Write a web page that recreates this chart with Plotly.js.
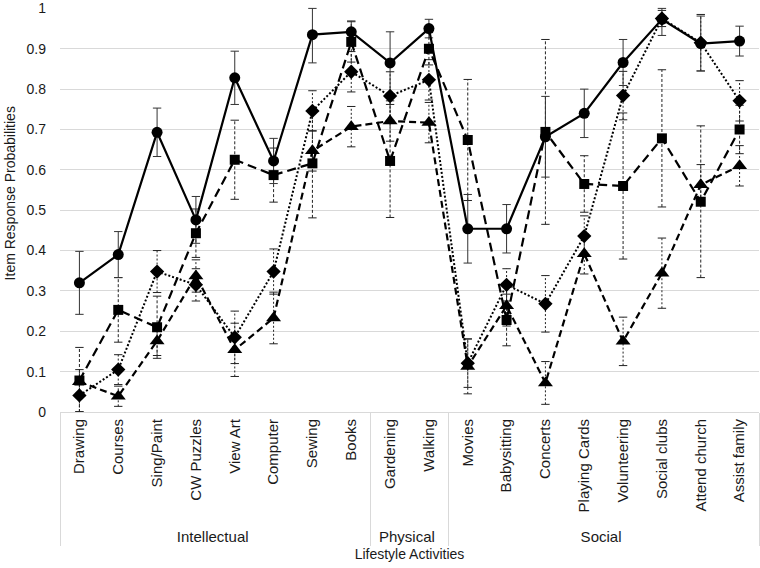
<!DOCTYPE html>
<html>
<head>
<meta charset="utf-8">
<script src="https://cdn.plot.ly/plotly-3.0.1.min.js"></script>
<style>
  body { margin: 0; background: #fff; }
  #chart { width: 760px; height: 568px; }
</style>
</head>
<body>
<div id="chart"></div>
<script>
var config = { responsive: false, displayModeBar: false }

// Activities and their domain
var activities = ["Drawing", "Courses", "Sing/Paint", "CW Puzzles", "View Art", "Computer", "Sewing", "Books",
    "Gardening", "Walking",
    "Movies", "Babysitting", "Concerts", "Playing Cards", "Volunteering", "Social clubs", "Attend church", "Assist family"];
var domains = ["Intellectual", "Intellectual", "Intellectual", "Intellectual", "Intellectual", "Intellectual", "Intellectual", "Intellectual",
    "Physical", "Physical",
    "Social", "Social", "Social", "Social", "Social", "Social", "Social", "Social"];

// Item response probabilities per class, with error sizes
var circleVals = [0.32, 0.39, 0.693, 0.476, 0.828, 0.622, 0.935, 0.942, 0.865, 0.95, 0.454, 0.454, 0.682, 0.74, 0.866, 0.973, 0.913, 0.919];
var circleErr = [0.078, 0.057, 0.06, 0.058, 0.066, 0.056, 0.07, 0.027, 0.077, 0.023, 0.085, 0.06, 0.1, 0.06, 0.057, 0.04, 0.068, 0.037];

var squareVals = [0.078, 0.253, 0.21, 0.443, 0.625, 0.587, 0.616, 0.917, 0.622, 0.9, 0.674, 0.228, 0.694, 0.565, 0.56, 0.678, 0.521, 0.70];
var squareErr = [0.082, 0.08, 0.077, 0.06, 0.098, 0.067, 0.135, 0.05, 0.14, 0.04, 0.15, 0.064, 0.229, 0.07, 0.181, 0.17, 0.188, 0.06];

var diamondVals = [0.041, 0.105, 0.348, 0.315, 0.185, 0.348, 0.746, 0.843, 0.783, 0.823, 0.121, 0.315, 0.268, 0.436, 0.784, 0.975, 0.915, 0.771];
var diamondErr = [0.04, 0.037, 0.052, 0.04, 0.065, 0.056, 0.05, 0.05, 0.06, 0.05, 0.06, 0.04, 0.07, 0.05, 0.06, 0.02, 0.07, 0.05];

var triangleVals = [0.075, 0.039, 0.176, 0.337, 0.154, 0.233, 0.647, 0.707, 0.721, 0.717, 0.113, 0.263, 0.072, 0.392, 0.175, 0.344, 0.563, 0.61];
var triangleErr = [0.03, 0.025, 0.036, 0.04, 0.066, 0.064, 0.05, 0.05, 0.05, 0.05, 0.068, 0.05, 0.053, 0.05, 0.06, 0.087, 0.05, 0.05];

var xCats = [domains, activities];

// Build error bar stems (as line segments) and caps for one series
function errorTraces(vals, errs, color, dash) {
    var gx = [], cx = [], ys = [];
    var capG = [], capC = [], capY = [];
    for (var i = 0; i < vals.length; i++) {
        var lo = Math.max(0, vals[i] - errs[i]);
        var hi = Math.min(1, vals[i] + errs[i]);
        gx.push(domains[i], domains[i], domains[i]);
        cx.push(activities[i], activities[i], activities[i]);
        ys.push(lo, hi, null);
        capG.push(domains[i], domains[i]);
        capC.push(activities[i], activities[i]);
        capY.push(lo, hi);
    }
    return [
        {
            x: [gx, cx], y: ys, type: 'scatter', mode: 'lines',
            line: { color: color, width: 1, dash: dash },
            connectgaps: false, hoverinfo: 'skip', showlegend: false, cliponaxis: false
        },
        {
            x: [capG, capC], y: capY, type: 'scatter', mode: 'markers',
            marker: { symbol: 'line-ew', size: 6, line: { color: color, width: 1 } },
            hoverinfo: 'skip', showlegend: false, cliponaxis: false
        }
    ];
}

function seriesTrace(vals, symbol, size, dash, width) {
    return {
        x: xCats, y: vals, type: 'scatter', mode: 'lines+markers',
        line: { color: '#000', width: width, dash: dash },
        marker: { symbol: symbol, size: size, color: '#000' },
        showlegend: false, cliponaxis: false
    };
}

var data = []
data = data.concat(errorTraces(triangleVals, triangleErr, '#222', '2px,2px'));
data = data.concat(errorTraces(diamondVals, diamondErr, '#222', '2px,2px'));
data = data.concat(errorTraces(squareVals, squareErr, '#222', '3px,2px'));
data = data.concat(errorTraces(circleVals, circleErr, '#333', 'solid'));
data.push(seriesTrace(triangleVals, 'triangle-up', 13, '7px,4px', 2.2));
data.push(seriesTrace(diamondVals, 'diamond', 11, '2px,2px', 2));
data.push(seriesTrace(squareVals, 'square', 10, '9px,5px', 2.2));
data.push(seriesTrace(circleVals, 'circle', 11, 'solid', 2.2));

var layout = {
    width: 760,
    height: 568,
    margin: { l: 60, r: 1, t: 8, b: 156 },
    paper_bgcolor: '#fff',
    plot_bgcolor: '#fff',
    font: { family: 'Liberation Sans, Arial, sans-serif', size: 14, color: '#1a1a1a' },
    xaxis: {
        type: 'multicategory',
        automargin: false,
        range: [-0.5, activities.length - 0.5],
        tickangle: -90,
        showline: true,
        linecolor: '#d9d9d9',
        linewidth: 1,
        showgrid: false,
        ticks: '',
        showdividers: true,
        dividercolor: '#d9d9d9',
        dividerwidth: 1,
        title: { text: 'Lifestyle Activities', font: { size: 14 }, standoff: 4 },
        tickfont: { size: 15 }
    },
    yaxis: {
        automargin: false,
        range: [0, 1.001],
        tickvals: [0, 0.1, 0.2, 0.3, 0.4, 0.5, 0.6, 0.7, 0.8, 0.9, 1],
        ticktext: ['0', '0.1', '0.2', '0.3', '0.4', '0.5', '0.6', '0.7', '0.8', '0.9', '1'],
        showgrid: true,
        gridcolor: '#d9d9d9',
        zeroline: false,
        showline: false,
        ticklabelstandoff: 13,
        tickfont: { size: 14 }
    },
    annotations: [{
        text: 'Item Response Probabilities',
        xref: 'paper', yref: 'paper',
        x: -0.071, y: 0.542,
        xanchor: 'center', yanchor: 'middle',
        textangle: -90,
        showarrow: false,
        font: { size: 14 }
    }]
};

Plotly.newPlot('chart', data, layout, config);
</script>
</body>
</html>
